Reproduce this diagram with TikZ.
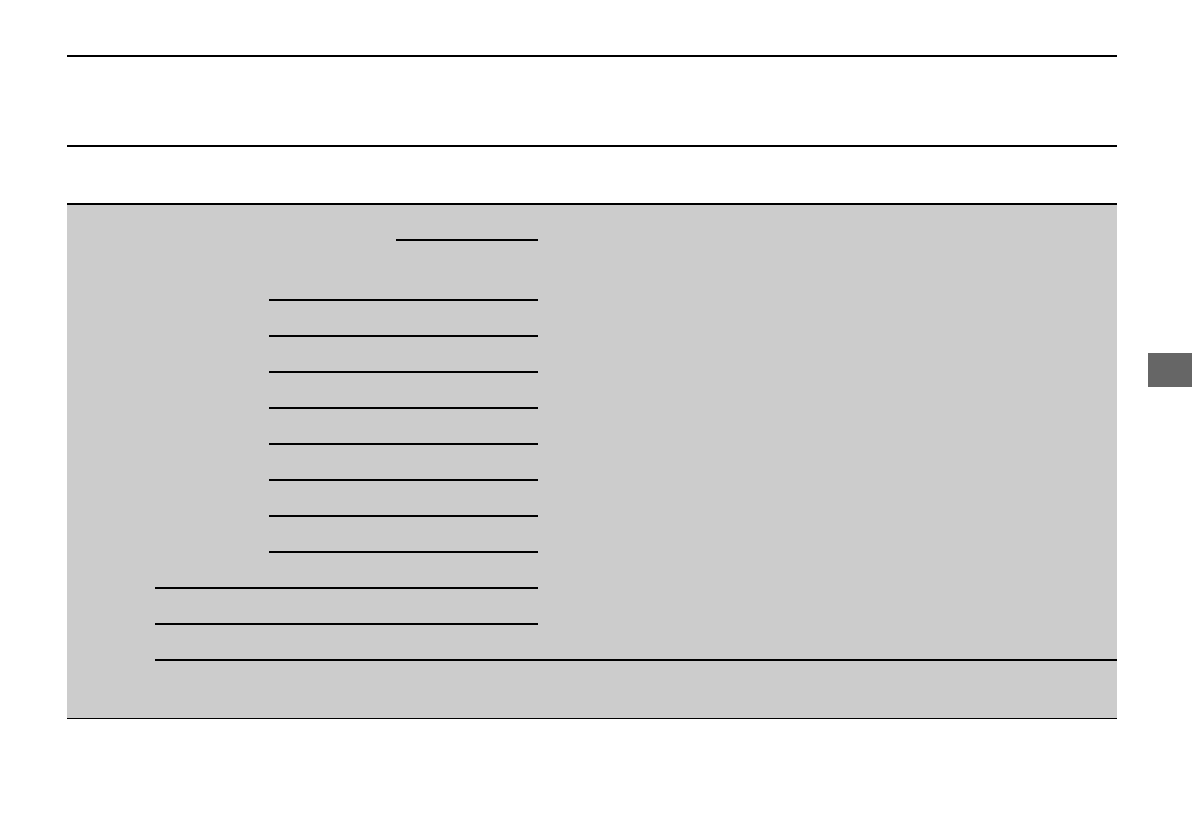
\documentclass[tikz,border=0pt]{standalone}
\begin{document}
\begin{tikzpicture}[x=1pt,y=-1pt,
  rule/.style={line width=1.2pt,black},
  cellbg/.style={fill=black!20},
  tab/.style={fill=black!60}]
\useasboundingbox (0,0) rectangle (1192,840);
% gray body
\fill[cellbg] (67,204) rectangle (1116.5,719);
% tab marker
\fill[tab] (1148,353) rectangle (1192,387);
% header rules
\draw[rule] (67,56) -- (1116.5,56);
\draw[rule] (67,146) -- (1116.5,146);
\draw[rule] (67,204) -- (1116.5,204);
\draw[rule] (67,718.5) -- (1116.5,718.5);
% inner rules
\draw[rule] (396,240) -- (538,240);
\foreach \yy in {300,336,372,408,444,480,516,552}
  \draw[rule] (269,\yy) -- (538,\yy);
\draw[rule] (155,588) -- (538,588);
\draw[rule] (155,624) -- (538,624);
\draw[rule] (155,660) -- (1116.5,660);
\end{tikzpicture}
\end{document}
